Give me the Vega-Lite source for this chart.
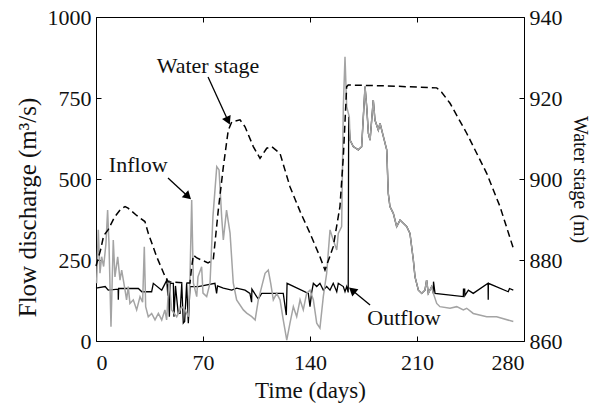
{
  "$schema": "https://vega.github.io/schema/vega-lite/v6.json",
  "width": 428,
  "height": 324,
  "autosize": {"type": "none"},
  "padding": {"left": 96, "top": 17, "right": 68, "bottom": 63},
  "background": "white",
  "config": {
    "view": {"stroke": "#000", "strokeWidth": 1},
    "font": "Liberation Serif",
    "axis": {
      "labelFont": "Liberation Serif", "titleFont": "Liberation Serif",
      "labelFontSize": 22, "titleFontSize": 22, "labelColor": "#111", "titleColor": "#111",
      "titleFontWeight": "normal", "grid": false, "domain": false,
      "tickColor": "#000", "tickSize": -5, "tickWidth": 1, "format": "d"
    }
  },
  "datasets": {
    "inflow": [
      {"day":0.4,"flow":178},{"day":1.5,"flow":343},{"day":2.6,"flow":209},{"day":3.7,"flow":260},{"day":5,"flow":230},{"day":6.5,"flow":300},{"day":7.6,"flow":404},{"day":8.5,"flow":301},{"day":9.8,"flow":44},{"day":11.3,"flow":312},{"day":12.4,"flow":198},{"day":14.2,"flow":260},{"day":15.7,"flow":188},{"day":16.8,"flow":219},{"day":19,"flow":157},{"day":20,"flow":127},{"day":21.1,"flow":168},{"day":22.2,"flow":116},{"day":24.4,"flow":127},{"day":26.6,"flow":96},{"day":28.8,"flow":137},{"day":30.5,"flow":120},{"day":31.6,"flow":291},{"day":32.5,"flow":106},{"day":34.2,"flow":75},{"day":36.4,"flow":85},{"day":38.6,"flow":65},{"day":40.8,"flow":85},{"day":43,"flow":65},{"day":45.1,"flow":96},{"day":46.2,"flow":65},{"day":47.8,"flow":188},{"day":49.5,"flow":96},{"day":52.8,"flow":75},{"day":56.1,"flow":106},{"day":58.2,"flow":96},{"day":60.4,"flow":75},{"day":61.5,"flow":198},{"day":62.6,"flow":435},{"day":63.7,"flow":179},{"day":65.9,"flow":137},{"day":66.7,"flow":198},{"day":69.1,"flow":229},{"day":70,"flow":148},{"day":72.4,"flow":137},{"day":74.6,"flow":179},{"day":76.5,"flow":384},{"day":79,"flow":538},{"day":80.5,"flow":528},{"day":82.2,"flow":384},{"day":83.3,"flow":312},{"day":85.4,"flow":404},{"day":87.7,"flow":333},{"day":89.8,"flow":179},{"day":92,"flow":127},{"day":96.4,"flow":96},{"day":98.6,"flow":86},{"day":101.9,"flow":75},{"day":104.1,"flow":65},{"day":106.2,"flow":127},{"day":108.4,"flow":168},{"day":110.6,"flow":209},{"day":112.7,"flow":219},{"day":114.3,"flow":178},{"day":116,"flow":127},{"day":118.2,"flow":147},{"day":120.4,"flow":127},{"day":122.5,"flow":65},{"day":124.8,"flow":3},{"day":126.9,"flow":55},{"day":129.1,"flow":106},{"day":131.3,"flow":75},{"day":133.5,"flow":127},{"day":135.6,"flow":96},{"day":137.8,"flow":147},{"day":140,"flow":157},{"day":142.2,"flow":127},{"day":144.4,"flow":55},{"day":146.5,"flow":40},{"day":148.7,"flow":137},{"day":150.9,"flow":209},{"day":153.1,"flow":343},{"day":155.2,"flow":312},{"day":157.5,"flow":281},{"day":158.5,"flow":332},{"day":160.7,"flow":353},{"day":161.8,"flow":723},{"day":162.9,"flow":877},{"day":164,"flow":723},{"day":165.7,"flow":692},{"day":166.2,"flow":620},{"day":168.3,"flow":600},{"day":171.6,"flow":590},{"day":173.8,"flow":600},{"day":176,"flow":785},{"day":177.1,"flow":723},{"day":178.2,"flow":641},{"day":179.3,"flow":620},{"day":181.4,"flow":744},{"day":182.5,"flow":682},{"day":184.7,"flow":651},{"day":185.8,"flow":672},{"day":188,"flow":631},{"day":190.2,"flow":590},{"day":191.2,"flow":456},{"day":192.3,"flow":415},{"day":194.5,"flow":394},{"day":196.7,"flow":353},{"day":198.9,"flow":373},{"day":203.3,"flow":353},{"day":205.4,"flow":332},{"day":207.6,"flow":250},{"day":208.7,"flow":198},{"day":210.9,"flow":157},{"day":213.1,"flow":147},{"day":215.2,"flow":157},{"day":216.3,"flow":188},{"day":217.4,"flow":147},{"day":219.6,"flow":168},{"day":220.7,"flow":147},{"day":222.9,"flow":116},{"day":225,"flow":106},{"day":231.6,"flow":101},{"day":236,"flow":106},{"day":240.3,"flow":96},{"day":242.5,"flow":101},{"day":246.8,"flow":85},{"day":255.6,"flow":75},{"day":262.1,"flow":75},{"day":273,"flow":60}
    ],
    "outflow": [
      {"day":0,"flow":163},{"day":6,"flow":168},{"day":8,"flow":157},{"day":14.5,"flow":160},{"day":14.6,"flow":127},{"day":14.8,"flow":162},{"day":21,"flow":162},{"day":27.7,"flow":162},{"day":30,"flow":152},{"day":36.4,"flow":152},{"day":37.5,"flow":178},{"day":43,"flow":157},{"day":46.3,"flow":188},{"day":47,"flow":140},{"day":47.3,"flow":175},{"day":48,"flow":75},{"day":48.5,"flow":178},{"day":50.6,"flow":178},{"day":51,"flow":75},{"day":52,"flow":170},{"day":53.8,"flow":85},{"day":55,"flow":85},{"day":56.1,"flow":178},{"day":57.1,"flow":55},{"day":58,"flow":60},{"day":59.3,"flow":178},{"day":60.4,"flow":55},{"day":61.5,"flow":168},{"day":66.9,"flow":168},{"day":77.8,"flow":178},{"day":78.9,"flow":147},{"day":79.5,"flow":170},{"day":83.3,"flow":163},{"day":88.8,"flow":157},{"day":92,"flow":163},{"day":97.5,"flow":157},{"day":100.7,"flow":147},{"day":101.8,"flow":120},{"day":102,"flow":160},{"day":105.1,"flow":137},{"day":106.2,"flow":130},{"day":108.4,"flow":147},{"day":122.5,"flow":147},{"day":124.5,"flow":80},{"day":125,"flow":178},{"day":138.9,"flow":147},{"day":140,"flow":106},{"day":141.1,"flow":150},{"day":142.2,"flow":178},{"day":144.4,"flow":168},{"day":146.5,"flow":178},{"day":148.7,"flow":157},{"day":150.9,"flow":168},{"day":153.1,"flow":157},{"day":155.2,"flow":178},{"day":157.5,"flow":152},{"day":158.5,"flow":178},{"day":161.8,"flow":168},{"day":162.9,"flow":152},{"day":164,"flow":168},{"day":165,"flow":150},{"day":165.3,"flow":692},{"day":166.2,"flow":620},{"day":168.3,"flow":600},{"day":171.6,"flow":590},{"day":173.8,"flow":600},{"day":176,"flow":785},{"day":177.1,"flow":723},{"day":178.2,"flow":641},{"day":179.3,"flow":620},{"day":181.4,"flow":744},{"day":182.5,"flow":682},{"day":184.7,"flow":651},{"day":185.8,"flow":672},{"day":188,"flow":631},{"day":190.2,"flow":590},{"day":191.2,"flow":456},{"day":192.3,"flow":415},{"day":194.5,"flow":394},{"day":196.7,"flow":353},{"day":198.9,"flow":373},{"day":203.3,"flow":353},{"day":205.4,"flow":332},{"day":207.6,"flow":250},{"day":208.7,"flow":198},{"day":210.9,"flow":157},{"day":213.1,"flow":147},{"day":215.2,"flow":157},{"day":216.3,"flow":188},{"day":217.4,"flow":147},{"day":219.6,"flow":168},{"day":220.7,"flow":147},{"day":220.8,"flow":183},{"day":221.8,"flow":147},{"day":240.3,"flow":137},{"day":240.4,"flow":160},{"day":241.2,"flow":160},{"day":241.3,"flow":140},{"day":243.6,"flow":157},{"day":246.8,"flow":147},{"day":256.5,"flow":178},{"day":256.6,"flow":127},{"day":256.7,"flow":178},{"day":269.7,"flow":152},{"day":270.5,"flow":162},{"day":273,"flow":157}
    ],
    "stage": [
      {"day":0,"stage":878.5},{"day":3,"stage":882.5},{"day":5,"stage":886},{"day":8,"stage":887.5},{"day":12,"stage":890.5},{"day":16,"stage":892.5},{"day":19,"stage":893.2},{"day":21,"stage":892.8},{"day":26.6,"stage":891},{"day":32,"stage":889.5},{"day":34.2,"stage":886.6},{"day":39.7,"stage":880.8},{"day":45.1,"stage":876},{"day":47.3,"stage":874.6},{"day":61.5,"stage":874.3},{"day":62.5,"stage":878},{"day":63.7,"stage":881.2},{"day":66,"stage":880.5},{"day":73.3,"stage":879.3},{"day":76.7,"stage":880},{"day":80,"stage":892.3},{"day":83.3,"stage":903},{"day":86.5,"stage":912},{"day":88.8,"stage":914.1},{"day":94.2,"stage":914.6},{"day":97.5,"stage":912.9},{"day":102.9,"stage":908},{"day":107.3,"stage":905.1},{"day":111.7,"stage":907.6},{"day":114.9,"stage":908},{"day":120.4,"stage":906.3},{"day":126.9,"stage":898.1},{"day":133.5,"stage":892},{"day":140,"stage":886.6},{"day":146.5,"stage":880.8},{"day":149.8,"stage":877.5},{"day":155.2,"stage":883.3},{"day":159.6,"stage":893.2},{"day":161.8,"stage":905.5},{"day":164,"stage":922.8},{"day":165,"stage":923.2},{"day":190,"stage":923},{"day":222.9,"stage":922.5},{"day":226,"stage":921.5},{"day":231.6,"stage":918.7},{"day":242.5,"stage":911.3},{"day":255.6,"stage":901.4},{"day":264.3,"stage":893.2},{"day":273,"stage":882.9}
    ],
    "notes": [
      {"label":"Water stage","day":73.3,"flow":849},
      {"label":"Inflow","day":27.6,"flow":543},
      {"label":"Outflow","day":201.5,"flow":71}
    ],
    "arrows": [
      {"id":"stage","day":73.3,"flow":815,"day2":86.4,"flow2":680},
      {"id":"inflow","day":47.1,"flow":503,"day2":60.2,"flow2":446},
      {"id":"outflow","day":179.3,"flow":111,"day2":167.6,"flow2":157}
    ]
  },
  "layer": [
    {
      "data": {"name": "outflow"},
      "mark": {"type": "line", "color": "#000", "strokeWidth": 1.3},
      "encoding": {
        "x": {"field": "day", "type": "quantitative", "scale": {"domain": [0, 280], "nice": false},
              "axis": {"orient": "bottom", "values": [0, 70, 140, 210, 280], "title": "Time (days)", "titleFontSize": 23, "labelPadding": 16, "titlePadding": 6}},
        "y": {"field": "flow", "type": "quantitative", "scale": {"domain": [0, 1000], "nice": false},
              "axis": {"orient": "left", "values": [0, 250, 500, 750, 1000], "title": "Flow discharge (m³/s)", "titleFontSize": 25, "titleY": 190, "labelPadding": 10, "titlePadding": 7}}
      }
    },
    {
      "data": {"name": "inflow"},
      "mark": {"type": "line", "color": "#a4a4a4", "strokeWidth": 1.5},
      "encoding": {
        "x": {"field": "day", "type": "quantitative", "scale": {"domain": [0, 280], "nice": false},
              "axis": {"orient": "top", "values": [0, 70, 140, 210, 280], "labels": false, "title": null}},
        "y": {"field": "flow", "type": "quantitative", "scale": {"domain": [0, 1000], "nice": false}, "axis": null}
      }
    },
    {
      "data": {"name": "stage"},
      "mark": {"type": "line", "color": "#000", "strokeWidth": 1.5, "strokeDash": [7, 4]},
      "encoding": {
        "x": {"field": "day", "type": "quantitative", "scale": {"domain": [0, 280], "nice": false}, "axis": null},
        "y": {"field": "stage", "type": "quantitative", "scale": {"domain": [860, 940], "nice": false, "zero": false},
              "axis": {"orient": "right", "values": [860, 880, 900, 920, 940], "title": "Water stage (m)", "titleFontSize": 20, "labelPadding": 10, "titlePadding": 7}}
      }
    },
    {
      "data": {"name": "arrows"},
      "mark": {"type": "rule", "color": "#000", "strokeWidth": 1.3},
      "encoding": {
        "x": {"field": "day", "type": "quantitative", "scale": {"domain": [0, 280], "nice": false}, "axis": null},
        "y": {"field": "flow", "type": "quantitative", "scale": {"domain": [0, 1000], "nice": false}, "axis": null},
        "x2": {"field": "day2"},
        "y2": {"field": "flow2"}
      }
    },
    {
      "data": {"name": "arrows"},
      "transform": [{"filter": "datum.id === 'stage'"}],
      "mark": {"type": "point", "shape": "triangle-up", "filled": true, "color": "#000", "opacity": 1, "size": 90, "angle": 155},
      "encoding": {
        "x": {"field": "day2", "type": "quantitative", "scale": {"domain": [0, 280], "nice": false}, "axis": null},
        "y": {"field": "flow2", "type": "quantitative", "scale": {"domain": [0, 1000], "nice": false}, "axis": null}
      }
    },
    {
      "data": {"name": "arrows"},
      "transform": [{"filter": "datum.id === 'inflow'"}],
      "mark": {"type": "point", "shape": "triangle-up", "filled": true, "color": "#000", "opacity": 1, "size": 90, "angle": 133},
      "encoding": {
        "x": {"field": "day2", "type": "quantitative", "scale": {"domain": [0, 280], "nice": false}, "axis": null},
        "y": {"field": "flow2", "type": "quantitative", "scale": {"domain": [0, 1000], "nice": false}, "axis": null}
      }
    },
    {
      "data": {"name": "arrows"},
      "transform": [{"filter": "datum.id === 'outflow'"}],
      "mark": {"type": "point", "shape": "triangle-up", "filled": true, "color": "#000", "opacity": 1, "size": 90, "angle": 310},
      "encoding": {
        "x": {"field": "day2", "type": "quantitative", "scale": {"domain": [0, 280], "nice": false}, "axis": null},
        "y": {"field": "flow2", "type": "quantitative", "scale": {"domain": [0, 1000], "nice": false}, "axis": null}
      }
    },
    {
      "data": {"name": "notes"},
      "mark": {"type": "text", "font": "Liberation Serif", "fontSize": 22, "color": "#111", "align": "center", "baseline": "middle"},
      "encoding": {
        "x": {"field": "day", "type": "quantitative", "scale": {"domain": [0, 280], "nice": false}, "axis": null},
        "y": {"field": "flow", "type": "quantitative", "scale": {"domain": [0, 1000], "nice": false}, "axis": null},
        "text": {"field": "label"}
      }
    }
  ],
  "resolve": {"scale": {"y": "independent"}, "axis": {"x": "independent", "y": "independent"}}
}
